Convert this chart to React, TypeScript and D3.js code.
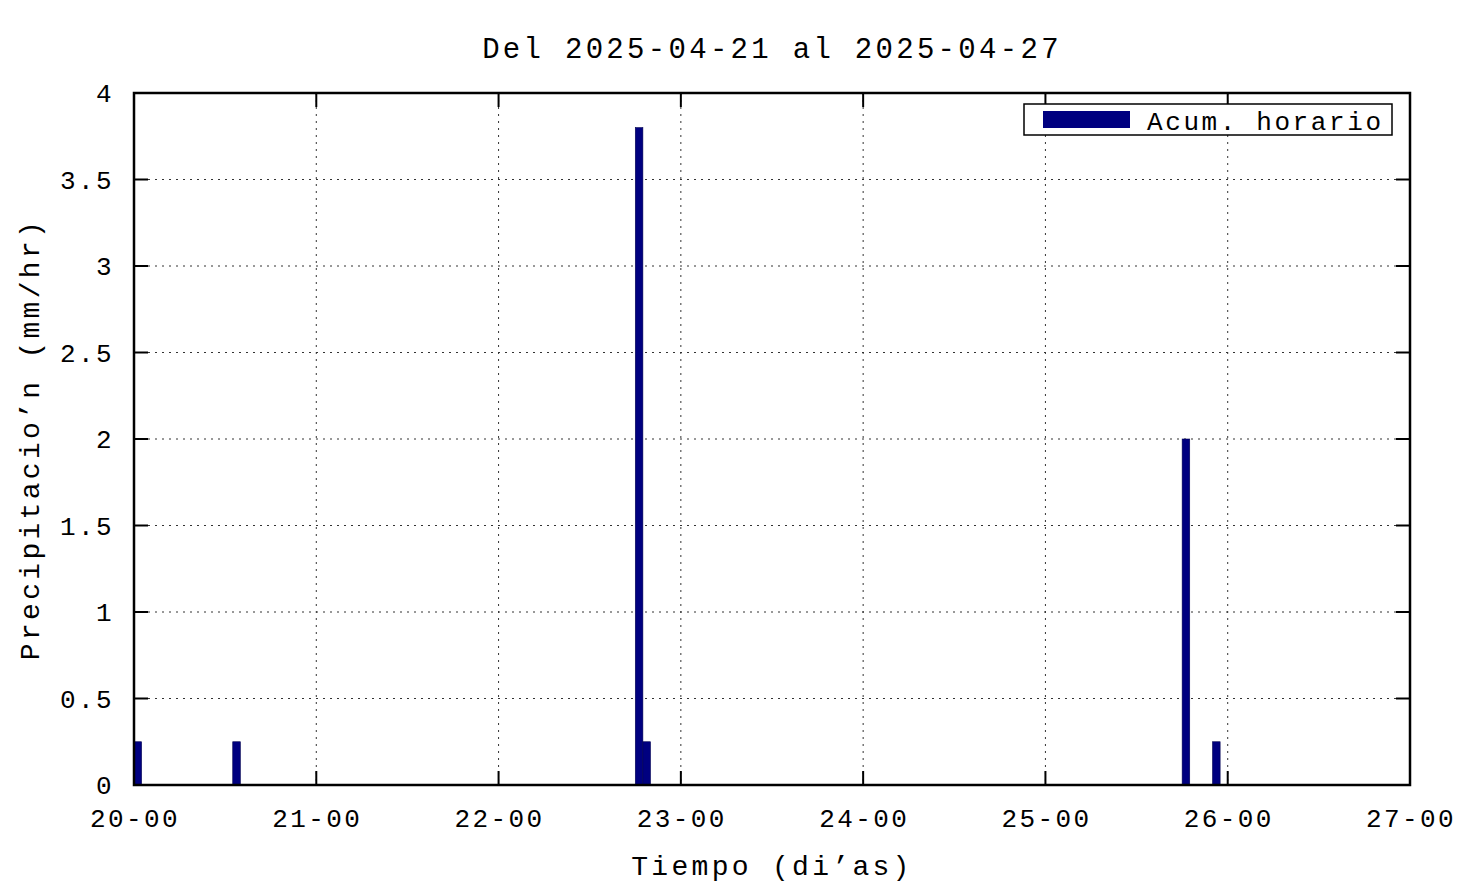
import React, { useEffect, useRef } from "react";
import * as d3 from "d3";

// hourly accumulated rain (mm/hr); hours with 0 are not listed
const hours = [
  "2025-04-20T00:00",
  "2025-04-20T13:00",
  "2025-04-22T18:00",
  "2025-04-22T19:00",
  "2025-04-25T18:00",
  "2025-04-25T22:00",
];
const values = [0.25, 0.25, 3.8, 0.25, 2.0, 0.25];
const yTicks = [0, 0.5, 1, 1.5, 2, 2.5, 3, 3.5, 4];
const xDomain = ["2025-04-20T00:00", "2025-04-27T00:00"];

const title = "Del 2025-04-21 al 2025-04-27";
const xLabel = "Tiempo (di’as)";
const yLabel = "Precipitacio’n (mm/hr)";
const legendLabel = "Acum. horario";

const width = 1476;
const height = 885;
const margin = { top: 93, right: 66, bottom: 100, left: 134 };
const font = "'Liberation Mono', 'DejaVu Sans Mono', monospace";
const barColor = "#000080";

const parse = (s: string) => new Date(s + ":00Z");

function App() {
  const svgRef = useRef<SVGSVGElement | null>(null);

  useEffect(() => {
    const svg = d3.select(svgRef.current);
    svg.selectAll("*").remove();

    const innerW = width - margin.left - margin.right;
    const innerH = height - margin.top - margin.bottom;

    const x = d3
      .scaleUtc()
      .domain(xDomain.map(parse))
      .range([0, innerW]);
    const y = d3.scaleLinear().domain([0, 4]).range([innerH, 0]);
    const xTicks = d3.utcDay.range(parse(xDomain[0]), d3.utcHour.offset(parse(xDomain[1]), 1));

    const g = svg
      .append("g")
      .attr("transform", `translate(${margin.left},${margin.top})`);

    // grid
    g.append("g")
      .selectAll("line")
      .data(yTicks.slice(1, -1))
      .join("line")
      .attr("x1", 0)
      .attr("x2", innerW)
      .attr("y1", (d) => y(d))
      .attr("y2", (d) => y(d))
      .attr("stroke", "#333")
      .attr("stroke-width", 1)
      .attr("stroke-dasharray", "2,5");

    g.append("g")
      .selectAll("line")
      .data(xTicks.slice(1, -1))
      .join("line")
      .attr("x1", (d) => x(d))
      .attr("x2", (d) => x(d))
      .attr("y1", 0)
      .attr("y2", innerH)
      .attr("stroke", "#333")
      .attr("stroke-width", 1)
      .attr("stroke-dasharray", "2,5");

    // bars
    g.append("g")
      .selectAll("rect")
      .data(hours.map((h, i) => ({ t: parse(h), v: values[i] })))
      .join("rect")
      .attr("x", (d) => x(d.t))
      .attr("width", (d) => x(d3.utcHour.offset(d.t, 1)) - x(d.t))
      .attr("y", (d) => y(d.v))
      .attr("height", (d) => y(0) - y(d.v))
      .attr("fill", barColor)
      .attr("stroke", "#000050")
      .attr("stroke-width", 0.6);

    // ticks (inward, on all four sides)
    const tickLen = 14;
    const ticks = g.append("g").attr("stroke", "#000").attr("stroke-width", 2);
    yTicks.forEach((t) => {
      ticks.append("line").attr("x1", 0).attr("x2", tickLen).attr("y1", y(t)).attr("y2", y(t));
      ticks
        .append("line")
        .attr("x1", innerW)
        .attr("x2", innerW - tickLen)
        .attr("y1", y(t))
        .attr("y2", y(t));
    });
    xTicks.forEach((t) => {
      ticks.append("line").attr("x1", x(t)).attr("x2", x(t)).attr("y1", innerH).attr("y2", innerH - tickLen);
      ticks.append("line").attr("x1", x(t)).attr("x2", x(t)).attr("y1", 0).attr("y2", tickLen);
    });

    // frame
    g.append("rect")
      .attr("x", 0)
      .attr("y", 0)
      .attr("width", innerW)
      .attr("height", innerH)
      .attr("fill", "none")
      .attr("stroke", "#000")
      .attr("stroke-width", 2.5);

    const labelStyle = (sel: any, size: number, spacing: number) =>
      sel
        .attr("font-family", font)
        .attr("font-size", size)
        .attr("letter-spacing", spacing)
        .attr("fill", "#000");

    // tick labels
    g.append("g")
      .selectAll("text")
      .data(yTicks)
      .join("text")
      .attr("x", -20)
      .attr("y", (d) => y(d) + 9)
      .attr("text-anchor", "end")
      .text((d) => String(d))
      .call((s) => labelStyle(s, 26, 2.4));

    const fmt = d3.utcFormat("%d-%H");
    g.append("g")
      .selectAll("text")
      .data(xTicks)
      .join("text")
      .attr("x", (d) => x(d) + 1)
      .attr("y", innerH + 42)
      .attr("text-anchor", "middle")
      .text((d) => fmt(d))
      .call((s) => labelStyle(s, 26, 2.4));

    // titles
    labelStyle(
      svg
        .append("text")
        .attr("x", margin.left + innerW / 2)
        .attr("y", 58)
        .attr("text-anchor", "middle")
        .text(title),
      29,
      3.3
    );
    labelStyle(
      svg
        .append("text")
        .attr("x", margin.left + innerW / 2)
        .attr("y", 875)
        .attr("text-anchor", "middle")
        .text(xLabel),
      28,
      3.3
    );
    labelStyle(
      svg
        .append("text")
        .attr("transform", `translate(39,${margin.top + innerH / 2}) rotate(-90)`)
        .attr("text-anchor", "middle")
        .text(yLabel),
      28,
      3.3
    );

    // legend
    const lg = g.append("g").attr("transform", `translate(${innerW - 386},11)`);
    lg.append("rect")
      .attr("width", 368)
      .attr("height", 31)
      .attr("fill", "#fff")
      .attr("stroke", "#000")
      .attr("stroke-width", 1.5);
    lg.append("rect")
      .attr("x", 19)
      .attr("y", 7)
      .attr("width", 87)
      .attr("height", 17)
      .attr("fill", barColor);
    labelStyle(lg.append("text").attr("x", 123).attr("y", 26).text(legendLabel), 26, 2.6);
  }, []);

  return <svg ref={svgRef} width={width} height={height} style={{ position: "absolute", left: 0, top: 0, background: "#fff" }} />;
}

export default App;
